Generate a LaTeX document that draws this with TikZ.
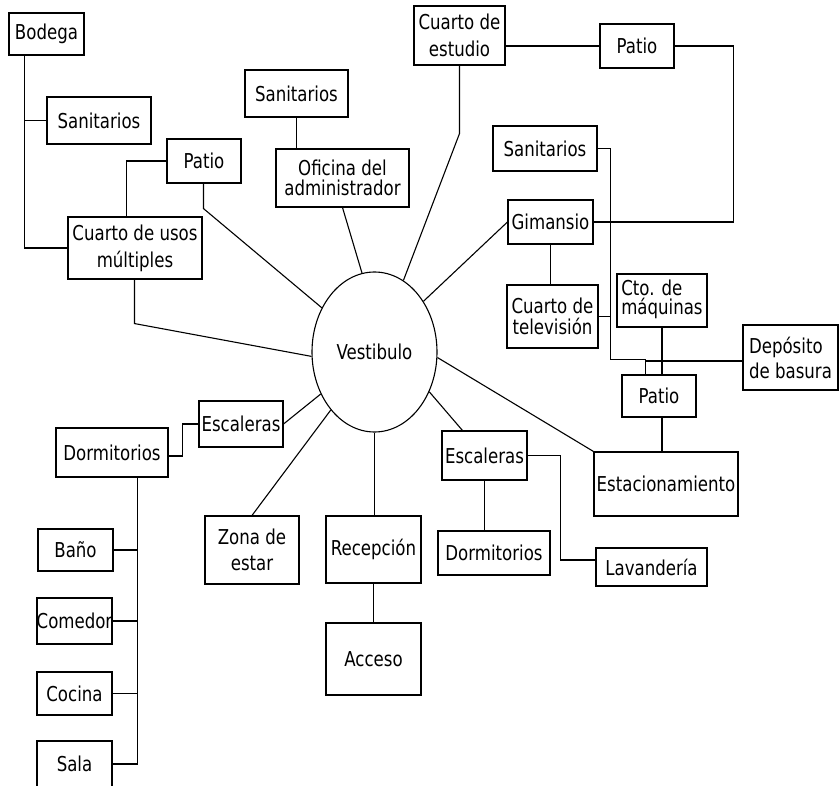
\documentclass[tikz,border=0pt]{standalone}
\usepackage{fontspec}
\setmainfont{DejaVu Sans Condensed}[FakeStretch=0.9]
\usetikzlibrary{shapes.geometric}
\newcommand\roombox[7][]{\node[room,#1,minimum width={(#5-#3)*1pt},minimum height={(#6-#4)*1pt}] (#2) at ({(#3+#5)/2},{(#4+#6)/2}) {#7};}
\begin{document}
\begin{tikzpicture}[x=1pt,y=-1pt,line width=1.1pt,
  room/.style={draw,inner sep=0pt,align=center,font=\fontsize{20.5}{23}\selectfont},
  hall/.style={draw,ellipse,inner sep=0pt,minimum width=125pt,minimum height=160pt,font=\fontsize{20.5}{23}\selectfont}]
\useasboundingbox (0,0) rectangle (839,786);
\roombox{bodega}{9}{13}{84}{55}{Bodega}
\roombox{sanL}{47}{97}{151}{144}{Sanitarios}
\roombox{patioL}{167}{139}{241}{183}{Patio}
\roombox{usos}{68}{217}{202}{279}{Cuarto de usos\\[4pt]múltiples}
\roombox{sanM}{245}{70}{348}{117}{Sanitarios}
\roombox{ofic}{276}{149}{409}{207}{Oficina del\\[-3pt]administrador}
\roombox{estudio}{414}{6}{505}{65}{Cuarto de\\[4pt]estudio}
\roombox{patioT}{600}{24}{674}{68}{Patio}
\roombox{sanR}{493}{126}{597}{171}{Sanitarios}
\roombox{gim}{508}{200}{593}{244}{Gimansio}
\roombox{tv}{507}{285}{598}{348}{Cuarto de\\[-2pt]televisión}
\roombox[align=left]{maq}{617}{274}{707}{327}{\raisebox{4pt}{\begin{tabular}{@{}l@{}}Cto. de\\[-4pt]máquinas\end{tabular}}}
\roombox[align=left]{deposito}{743}{325}{838}{390}{Depósito\\[2pt]de basura}
\roombox{patioR}{622}{375}{696}{417}{Patio}
\roombox{estac}{594}{452}{738}{516}{\makebox[0pt]{Estacionamiento}}
\roombox{escR}{442}{431}{527}{480}{\makebox[0pt]{Escaleras}}
\roombox{lav}{596}{548}{707}{586}{Lavandería}
\roombox{dormR}{438}{531}{550}{575}{Dormitorios}
\roombox{escL}{199}{401}{283}{447}{\makebox[0pt]{Escaleras}}
\roombox{dormL}{56}{428}{168}{477}{Dormitorios}
\roombox{bano}{38}{529}{113}{571}{Baño}
\roombox{comedor}{37}{598}{112}{644}{\makebox[0pt]{Comedor}}
\roombox{cocina}{37}{672}{112}{715}{Cocina}
\roombox{sala}{37}{741}{112}{787}{Sala}
\roombox{zona}{205}{516}{299}{584}{Zona de\\[3pt]estar}
\roombox{recep}{326}{516}{421}{583}{Recepción}
\roombox{acceso}{326}{623}{421}{695}{Acceso}
\node[hall] (vest) at (374.5,352) {Vestibulo};
% connectors
\coordinate (bl) at ([xshift=16pt]bodega.south west);
\draw (bl) |- (usos.west);
\draw (sanL.west) -- (sanL.west -| bl);
\draw (patioL.west) -| ([xshift=59pt]usos.north west);
\draw ([xshift=37pt]patioL.south west) -- ++(0,25) -- (vest.140.7);
\draw ([xshift=67pt]usos.south west) -- ++(0,44) -- (vest.184.6);
\draw (sanM.south) -- (sanM.south |- ofic.north);
\draw (ofic.south) -- (vest.99);
\draw (patioT.west) -- (patioT.west -| estudio.east);
\draw (estudio.south) -- ++(0,68) -- (vest.68.8);
\draw (patioT.east) -- ++(59,0) |- (gim.east);
\draw (gim.west) -- (vest.46.4);
\draw (gim.south) -- (gim.south |- tv.north);
\coordinate (pj) at ([xshift=24pt]patioR.north west);
\coordinate (pk) at ([xshift=24pt,yshift=15pt]patioR.north west);
\draw (sanR.east) -- ++(13,0) coordinate (sr) |- (pk) -- (pj);
\draw (tv.east) -- (tv.east -| sr);
\draw (maq.south) -- (maq.south |- patioR.north);
\coordinate (dw) at ([yshift=-3.5pt]deposito.west);
\draw (dw) -- (dw -| pj);
\draw (patioR.south -| maq.south) -- (estac.north -| maq.south);
\draw (vest.355.4) -- (estac.north west);
\draw (vest.324.9) -- ([xshift=21pt]escR.north west);
\draw (escR.east) -- ++(33,0) |- ([yshift=7pt]lav.west);
\draw (escR.south) -- (escR.south |- dormR.north);
\draw (vest.218.9) -- (escL.east);
\draw ([yshift=-3.5pt]dormL.east) -- ++(14,0) |- (escL.west);
\coordinate (dl) at ([xshift=82pt]dormL.south west);
\draw (dl) |- (sala.east);
\draw (bano.east) -- (bano.east -| dl);
\draw (comedor.east) -- (comedor.east -| dl);
\draw (cocina.east) -- (cocina.east -| dl);
\draw (vest.233.4) -- (zona.north);
\draw (vest.south) -- (vest.south |- recep.north);
\draw (recep.south) -- (recep.south |- acceso.north);
\end{tikzpicture}
\end{document}
